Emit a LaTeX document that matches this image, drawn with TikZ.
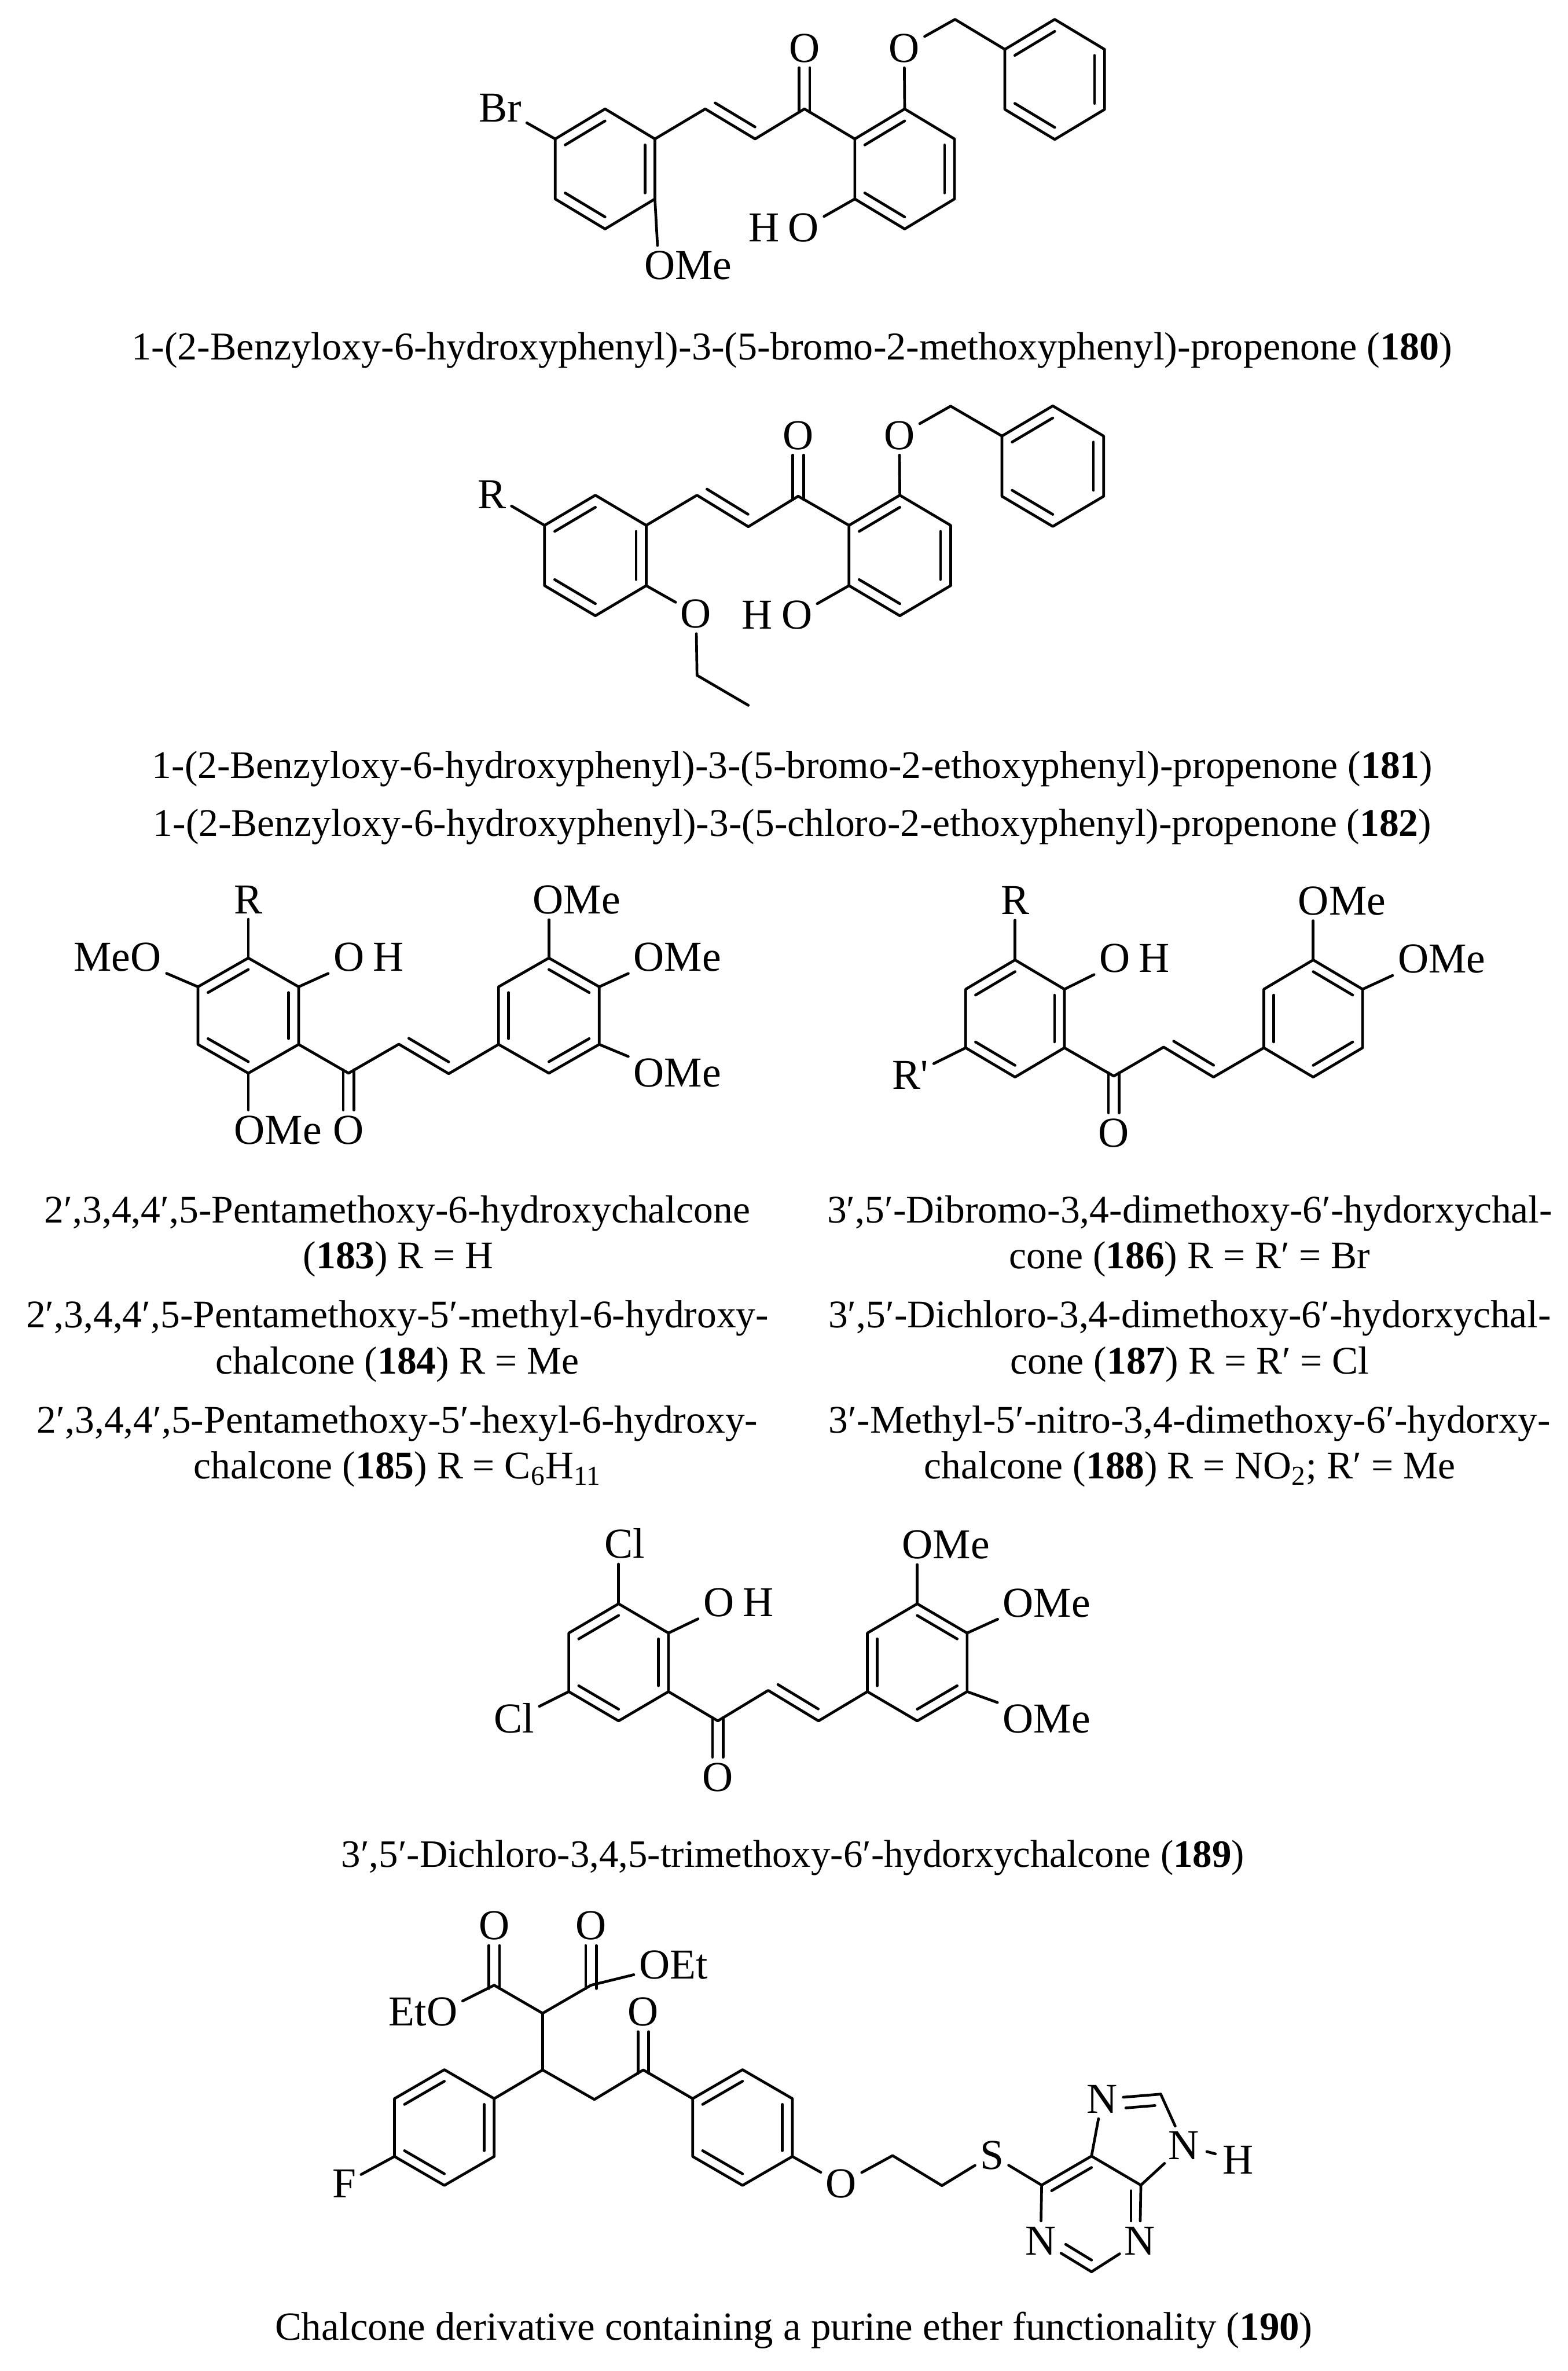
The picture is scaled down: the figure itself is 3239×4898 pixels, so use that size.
\documentclass[tikz,border=0pt]{standalone}
\usepackage{fontspec}
\setmainfont{Liberation Serif}
\newfontfamily\labelfont{Liberation Serif}
\usetikzlibrary{calc}
\tikzset{bond/.style={line width=1.4pt, line cap=round, line join=round},
         tolabel/.style={bond, shorten >=3pt},
         atom/.style={font=\labelfont\fontsize{22}{26}\selectfont, inner sep=0, outer sep=0, text height=14.5pt, text depth=0pt},
         capline/.style={font=\fontsize{20.2}{24}\selectfont, inner sep=0, outer sep=0, anchor=base}}
\newcommand{\ringx}{103}
\newcommand{\ringy}{124}
% ring: name, centre x, centre y
\newcommand{\ring}[3]{
  \coordinate (#1c) at (#2,#3);
  \foreach \n/\dx/\dy in {1/0/-1,2/1/-0.5,3/1/0.5,4/0/1,5/-1/0.5,6/-1/-0.5}
    \coordinate (#1\n) at (#2+\dx*\ringx,#3+\dy*\ringy);
  \draw[bond] (#11) -- (#12) -- (#13) -- (#14) -- (#15) -- (#16) -- cycle;
}
\newcommand{\ringin}[3]{\draw[bond] ($(#1#2)!0.2!(#1c)$) -- ($(#1#3)!0.2!(#1c)$);}
\newcommand{\ringone}[1]{\ringin{#1}{6}{1}\ringin{#1}{2}{3}\ringin{#1}{4}{5}}
\newcommand{\ringtwo}[1]{\ringin{#1}{1}{2}\ringin{#1}{3}{4}\ringin{#1}{5}{6}}
\newcommand{\zigbond}[3]{\draw[bond] ($(#1)!0.2!($(#1)+(#3)-(#2)$)$) -- ($(#2)!0.2!($(#1)+(#3)-(#2)$)$);}
\newcommand{\cbond}[2]{
  \draw[tolabel, shorten <=-1.75pt] ([xshift=-2.75pt]#1) -- ([xshift=-2.75pt]#2);
  \draw[tolabel, shorten <=-1.75pt] ([xshift=2.75pt]#1) -- ([xshift=2.75pt]#2);
}
\begin{document}
\begin{tikzpicture}[x=0.25pt, y=-0.25pt]
  \useasboundingbox (0,0) rectangle (3239,4898);

  % compound 180
  \renewcommand{\ringx}{103}\renewcommand{\ringy}{124}
  \ring{ma}{1250}{349} \ring{mb}{1869}{349} \ring{mc}{2179}{164}
  \ringone{ma} \ringone{mb} \ringone{mc}
  \coordinate (mu) at (1457,225);
  \coordinate (mv) at (1560,287);
  \coordinate (mw) at (1662,225);
  \coordinate (mch) at (1973,40);
  \draw[bond] (ma2) -- (mu) -- (mv) -- (mw) -- (mb6);
  \zigbond{mu}{mv}{mw}
  \node[atom] (mo1) at (1662,99) {O};
  \node[atom] (mo2) at (1868,99) {O};
  \node[atom] (mbr) at (1034,223) {Br};
  \node[atom, anchor=east] (moh) at (1692,470) {H\hspace{4.5pt}O};
  \node[atom, anchor=west] (mome) at (1331,548) {OMe};
  \cbond{mw}{mo1.south}
  \draw[tolabel] (mb1) -- (mo2);
  \draw[bond, shorten <=3pt] (mo2) -- (mch) -- (mc6);
  \draw[tolabel] (ma6) -- (mbr);
  \draw[tolabel] (mb5) -- ($(moh.east)+(0,-17)$);
  \draw[tolabel] (ma3) -- ($(mome.north west)+(28,0)$);
  \node[capline, font=\fontsize{20.35}{24}\selectfont] (cap180) at (1636,743) {1-(2-Benzyloxy-6-hydroxyphenyl)-3-(5-bromo-2-methoxyphenyl)-propenone (\textbf{180})};

  % compounds 181, 182
  \renewcommand{\ringx}{105}\renewcommand{\ringy}{124.5}
  \ring{na}{1230}{1147.5} \ring{nb}{1859}{1147.5} \ring{nc}{2175}{963}
  \ringone{na} \ringone{nb} \ringone{nc}
  \coordinate (nu) at (1440,1023);
  \coordinate (nv) at (1546,1088);
  \coordinate (nw) at (1649,1025);
  \coordinate (nch) at (1964,839);
  \coordinate (net) at (1440,1395);
  \coordinate (nme) at (1546,1457);
  \draw[bond] (na2) -- (nu) -- (nv) -- (nw) -- (nb6);
  \zigbond{nu}{nv}{nw}
  \node[atom] (no1) at (1649,899) {O};
  \node[atom] (no2) at (1858,899) {O};
  \node[atom] (nr) at (1017,1022) {R};
  \node[atom, anchor=east] (noh) at (1678,1270) {H\hspace{4.5pt}O};
  \node[atom] (no3) at (1438,1268) {O};
  \cbond{nw}{no1.south}
  \draw[tolabel] (nb1) -- (no2);
  \draw[bond, shorten <=3pt] (no2) -- (nch) -- (nc6);
  \draw[tolabel] (na6) -- (nr);
  \draw[tolabel] (nb5) -- ($(noh.east)+(0,-17)$);
  \draw[tolabel] (na3) -- (no3);
  \draw[bond, shorten <=3pt] (no3) -- (net) -- (nme);
  \node[capline] (cap181) at (1637,1608) {1-(2-Benzyloxy-6-hydroxyphenyl)-3-(5-bromo-2-ethoxyphenyl)-propenone (\textbf{181})};
  \node[capline] (cap182) at (1637,1727) {1-(2-Benzyloxy-6-hydroxyphenyl)-3-(5-chloro-2-ethoxyphenyl)-propenone (\textbf{182})};

  % compounds 183 to 185
  \renewcommand{\ringx}{104}\renewcommand{\ringy}{119}
  \ring{pa}{513}{2098} \ring{pb}{1134}{2098}
  \ringone{pa} \ringtwo{pb}
  \coordinate (pw) at (720,2217);
  \coordinate (pu) at (824,2157);
  \coordinate (pv) at (927,2218);
  \draw[bond] (pa3) -- (pw) -- (pu) -- (pv) -- (pb5);
  \zigbond{pu}{pv}{pb5}
  \node[atom] (po1) at (720,2334) {O};
  \node[atom] (pr) at (513,1858) {R};
  \node[atom, anchor=east] (pmeo) at (333,1977) {MeO};
  \node[atom, anchor=west] (poh) at (689,1977) {O\hspace{4.5pt}H};
  \node[atom, anchor=west] (pome1) at (484,2334) {OMe};
  \node[atom, anchor=west] (pome2) at (1101,1859) {OMe};
  \node[atom, anchor=west] (pome3) at (1309,1977) {OMe};
  \node[atom, anchor=west] (pome4) at (1309,2216) {OMe};
  \cbond{pw}{po1.north}
  \draw[tolabel] (pa1) -- (pr);
  \draw[tolabel] (pa6) -- (pmeo.south east);
  \draw[tolabel] (pa2) -- (poh.south west);
  \draw[tolabel] (pa4) -- (pome1.north -| pa4);
  \draw[tolabel] (pb1) -- (pome2.south -| pb1);
  \draw[tolabel] (pb2) -- (pome3.south west);
  \draw[tolabel] (pb3) -- (pome4.north west);
  \node[capline] (cap183a) at (821,2526) {2′,3,4,4′,5-Pentamethoxy-6-hydroxychalcone};
  \node[capline] (cap183b) at (823,2621) {(\textbf{183}) R = H};
  \node[capline] (cap184a) at (821,2743) {2′,3,4,4′,5-Pentamethoxy-5′-methyl-6-hydroxy-};
  \node[capline] (cap184b) at (821,2838) {chalcone (\textbf{184}) R = Me};
  \node[capline] (cap185a) at (821,2960) {2′,3,4,4′,5-Pentamethoxy-5′-hexyl-6-hydroxy-};
  \node[capline] (cap185b) at (821,3055) {chalcone (\textbf{185}) R = C\textsubscript{6}H\textsubscript{11}};

  % compounds 186 to 188
  \renewcommand{\ringx}{102}\renewcommand{\ringy}{121}
  \ring{qa}{2097}{2104} \ring{qb}{2713}{2104}
  \ringone{qa} \ringtwo{qb}
  \coordinate (qw) at (2301,2223);
  \coordinate (qu) at (2404,2163);
  \coordinate (qv) at (2507,2225);
  \draw[bond] (qa3) -- (qw) -- (qu) -- (qv) -- (qb5);
  \zigbond{qu}{qv}{qb5}
  \node[atom] (qo1) at (2301,2340) {O};
  \node[atom] (qr) at (2097,1860) {R};
  \node[atom] (qrp) at (1881,2221) {R'};
  \node[atom, anchor=west] (qoh) at (2271,1979) {O\hspace{4.5pt}H};
  \node[atom, anchor=west] (qome1) at (2682,1861) {OMe};
  \node[atom, anchor=west] (qome2) at (2888,1981) {OMe};
  \cbond{qw}{qo1.north}
  \draw[tolabel] (qa1) -- (qr);
  \draw[tolabel] (qa5) -- (qrp);
  \draw[tolabel] (qa2) -- (qoh.south west);
  \draw[tolabel] (qb1) -- (qome1.south -| qb1);
  \draw[tolabel] (qb2) -- (qome2.south west);
  \node[capline] (cap186a) at (2458,2526) {3′,5′-Dibromo-3,4-dimethoxy-6′-hydorxychal-};
  \node[capline] (cap186b) at (2458,2621) {cone (\textbf{186}) R = R′ = Br};
  \node[capline] (cap187a) at (2458,2743) {3′,5′-Dichloro-3,4-dimethoxy-6′-hydorxychal-};
  \node[capline] (cap187b) at (2458,2838) {cone (\textbf{187}) R = R′ = Cl};
  \node[capline] (cap188a) at (2458,2960) {3′-Methyl-5′-nitro-3,4-dimethoxy-6′-hydorxy-};
  \node[capline] (cap188b) at (2458,3055) {chalcone (\textbf{188}) R = NO\textsubscript{2}; R′ = Me};

  % compound 189
  \renewcommand{\ringx}{103}\renewcommand{\ringy}{121}
  \ring{ra}{1278}{3434} \ring{rb}{1895}{3434}
  \ringone{ra} \ringtwo{rb}
  \coordinate (rw) at (1483,3555);
  \coordinate (ru) at (1587,3492);
  \coordinate (rv) at (1691,3555);
  \draw[bond] (ra3) -- (rw) -- (ru) -- (rv) -- (rb5);
  \zigbond{ru}{rv}{rb5}
  \node[atom] (ro1) at (1483,3671) {O};
  \node[atom] (rcl1) at (1290,3190) {Cl};
  \node[atom] (rcl2) at (1062,3551) {Cl};
  \node[atom, anchor=west] (roh) at (1453,3310) {O\hspace{4.5pt}H};
  \node[atom, anchor=west] (rome1) at (1864,3191) {OMe};
  \node[atom, anchor=west] (rome2) at (2072,3311) {OMe};
  \node[atom, anchor=west] (rome3) at (2072,3550) {OMe};
  \cbond{rw}{ro1.north}
  \draw[tolabel] (ra1) -- (rcl1.south -| ra1);
  \draw[tolabel] (ra5) -- (rcl2);
  \draw[tolabel] (ra2) -- (roh.south west);
  \draw[tolabel] (rb1) -- (rome1.south -| rb1);
  \draw[tolabel] (rb2) -- (rome2.south west);
  \draw[tolabel] (rb3) -- (rome3.north west);
  \node[capline, font=\fontsize{20}{24}\selectfont] (cap189) at (1638,3857) {3′,5′-Dichloro-3,4,5-trimethoxy-6′-hydorxychalcone (\textbf{189})};

  % compound 190
  \renewcommand{\ringx}{103}\renewcommand{\ringy}{119.5}
  \ring{sa}{918}{4395} \ring{sb}{1534}{4395}
  \ringone{sa} \ringone{sb}
  \coordinate (sd) at (1121,4276);
  \coordinate (se) at (1228,4337);
  \coordinate (sf) at (1329,4276);
  \coordinate (sg) at (1121,4159);
  \coordinate (sh) at (1021,4101);
  \coordinate (si) at (1221,4101);
  \coordinate (sj) at (1844,4453);
  \coordinate (sk) at (1946,4515);
  \draw[bond] (sa2) -- (sd) -- (se) -- (sf) -- (sb6);
  \draw[bond] (sh) -- (sg) -- (si);
  \draw[bond] (sd) -- (sg);
  \node[atom] (so1) at (1021,3978) {O};
  \node[atom] (so2) at (1221,3978) {O};
  \node[atom] (so3) at (1329,4156) {O};
  \node[atom, anchor=east] (seto) at (945,4156) {EtO};
  \node[atom, anchor=west] (soet) at (1321,4059) {OEt};
  \node[atom] (sfl) at (711,4511) {F};
  \node[atom] (so4) at (1738,4511) {O};
  \node[atom] (ss) at (2049,4452) {S};
  \cbond{sh}{so1.south}
  \cbond{si}{so2.south}
  \cbond{sf}{so3.south}
  \draw[tolabel] (sh) -- ($(seto.east)+(0,-17)$);
  \draw[tolabel] (si) -- (soet);
  \draw[tolabel] (sa5) -- (sfl);
  \draw[tolabel] (sb3) -- (so4);
  \draw[tolabel, shorten <=3pt] (so4) -- (sj) -- (sk) -- (ss);
  % purine
  \coordinate (tc6) at (2152,4514);
  \coordinate (tc5) at (2255,4454);
  \coordinate (tc4) at (2357,4514);
  \coordinate (tc2) at (2255,4693);
  \coordinate (tc8) at (2398,4326);
  \coordinate (tcc) at (2255,4572);
  \coordinate (tdc) at (2335,4450);
  \node[atom] (tn1) at (2150,4629) {N};
  \node[atom] (tn3) at (2355,4629) {N};
  \node[atom] (tn7) at (2277,4336) {N};
  \node[atom] (tn9) at (2446,4432) {N};
  \node[atom] (th) at (2558,4462) {H};
  \draw[bond, shorten <=3pt] (ss) -- (tc6);
  \draw[bond] (tc6) -- (tc5) -- (tc4);
  \draw[tolabel] (tc6) -- (tn1);
  \draw[tolabel] (tc5) -- (tn7);
  \draw[tolabel] (tc8) -- (tn7);
  \draw[tolabel] (tc8) -- (tn9);
  \draw[tolabel] (tc4) -- (tn9);
  \draw[tolabel] (tc4) -- (tn3);
  \draw[tolabel] (tc2) -- (tn1);
  \draw[tolabel] (tc2) -- (tn3);
  \draw[tolabel, shorten <=4pt, shorten >=4pt] (tn9) -- (th);
  \draw[bond] ($(tc6)!0.2!(tcc)$) -- ($(tc5)!0.2!(tcc)$);
  \coordinate (tc4i) at ($(tc4)!0.2!(tcc)$);
  \draw[tolabel] (tc4i) -- (tc4i |- tn3.north);
  \draw[bond, shorten >=9pt] ($(tc2)!0.2!(tcc)$) -- ($(tn1)!0.2!(tcc)$);
  \draw[bond, shorten >=9.5pt] ($(tc8)!0.19!(tdc)$) -- ($(tn7)!0.19!(tdc)$);
  \node[capline, font=\fontsize{20.6}{24}\selectfont] (cap190) at (1640,4834) {Chalcone derivative containing a purine ether functionality (\textbf{190})};
\end{tikzpicture}
\end{document}
